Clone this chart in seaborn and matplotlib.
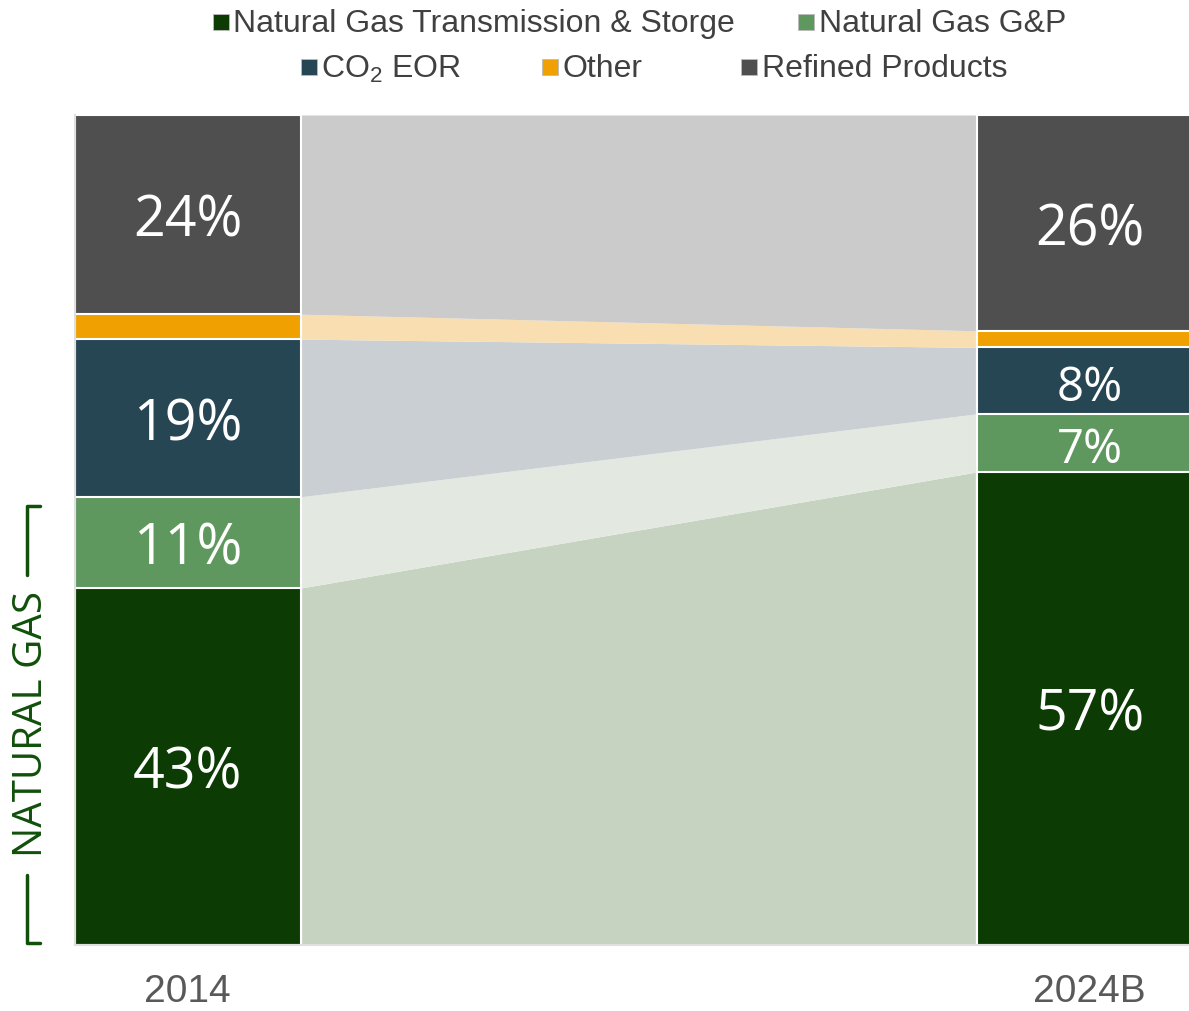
import numpy as np
import pandas as pd
import matplotlib
matplotlib.use("Agg")
import matplotlib.pyplot as plt
from matplotlib.patches import Rectangle
from matplotlib.lines import Line2D
from matplotlib.transforms import offset_copy
import seaborn as sns

sns.set_style("white")
plt.rcParams["font.family"] = ["Liberation Sans", "DejaVu Sans"]
plt.rcParams["mathtext.fontset"] = "custom"
plt.rcParams["mathtext.rm"] = "Liberation Sans"

# 데이터
years = ["2014", "2024B"]
segments = ["Natural Gas Transmission & Storge", "Natural Gas G&P",
            "CO$_{\\mathregular{2}}$ EOR", "Other", "Refined Products"]
vals_2014 = [43, 11, 19, 3, 24]
vals_2024 = [57, 7, 8, 2, 26]
show_label = [True, True, True, False, True]

# 색상
bar_colors = ["#0c3c03", "#5f985f", "#274654", "#f0a000", "#4f4f4f"]
band_colors = ["#c6d3c1", "#e3e8e1", "#c9cfd3", "#f8deb1", "#cbcbcb"]

df = pd.DataFrame({"segment": segments, "2014": vals_2014, "2024B": vals_2024})
cum = df[years].cumsum()
bottoms = cum - df[years]

fig = plt.figure(figsize=(11.89, 10.11), dpi=100)
ax = fig.add_axes([75 / 1189, 66 / 1011, 1114 / 1189, 830 / 1011])

bar_w = 0.25

# 누적 막대 (위에서부터 덮어 그리기)
for i in range(len(segments) - 1, -1, -1):
    d = pd.DataFrame({"year": years, "top": cum.iloc[i].values})
    sns.barplot(data=d, x="year", y="top", color=bar_colors[i], saturation=1,
                width=bar_w, edgecolor="white", linewidth=1.5, errorbar=None, ax=ax)

# 연결 밴드
xl, xr = bar_w / 2, 1 - bar_w / 2
for i in range(len(segments)):
    ax.fill_between([xl, xr], [bottoms.iloc[i, 0], bottoms.iloc[i, 1]],
                    [cum.iloc[i, 0], cum.iloc[i, 1]], color=band_colors[i],
                    linewidth=0, zorder=0.5)

# 퍼센트 라벨
lab_tr = offset_copy(ax.transData, fig=fig, x=0, y=-5.5, units="points")
for j, y in enumerate(years):
    for i in range(len(segments)):
        if not show_label[i]:
            continue
        v = df[y].iloc[i]
        mid = bottoms.iloc[i, j] + v / 2
        fs = 40 if v >= 10 else 34
        ax.text(j, mid, f"{v}%", ha="center", va="center", color="white",
                fontsize=fs, family=["Open Sans", "DejaVu Sans"], transform=lab_tr)

ax.set_xlim(-bar_w / 2, 1.11)
ax.set_ylim(0, 100)
ax.set_yticks([])
ax.set_xticks([0, 1], years)
ax.tick_params(axis="x", length=0, pad=21, labelsize=28, labelcolor="#595959")
ax.set_xlabel("")
ax.set_ylabel("")
for s in ["top", "right"]:
    ax.spines[s].set_visible(False)
for s in ["left", "bottom"]:
    ax.spines[s].set_color("#e0e0e0")
    ax.spines[s].set_linewidth(1.5)

# 범례 (수동 배치, 픽셀 좌표)
H, W = 1011, 1189
legend_items = [
    (0, 213, 233, 22),
    (1, 798, 819, 22),
    (2, 301, 321, 67),
    (3, 542, 562, 67),
    (4, 741, 762, 67),
]
for idx, mx, tx, yc in legend_items:
    fig.add_artist(Rectangle((mx / W, 1 - (yc + 8) / H), 16 / W, 16 / H,
                             transform=fig.transFigure, facecolor=bar_colors[idx],
                             edgecolor="#bbbbbb", linewidth=0.6))
    fig.text(tx / W, 1 - (yc + 2) / H, segments[idx], ha="left", va="center",
             fontsize=23, color="#404040")

# NATURAL GAS 괄호
green = "#10500a"
fig.text(32 / W, 1 - 724 / H, "NATURAL GAS", rotation=90, ha="center", va="center",
         fontsize=29, color=green, family=["Open Sans", "DejaVu Sans"])
bx = 27
fig.add_artist(Line2D([bx / W, bx / W, 40 / W], [1 - 575 / H, 1 - 506 / H, 1 - 506 / H],
                      transform=fig.transFigure, color=green, linewidth=2.5))
fig.add_artist(Line2D([bx / W, bx / W, 40 / W], [1 - 875 / H, 1 - 943 / H, 1 - 943 / H],
                      transform=fig.transFigure, color=green, linewidth=2.5))

fig.savefig("out.png", dpi=100)
